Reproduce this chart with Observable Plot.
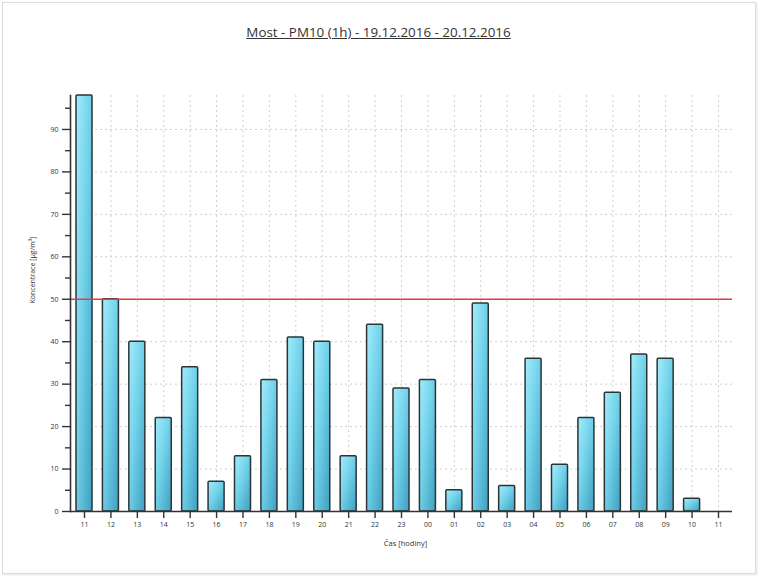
<!DOCTYPE html>
<html>
<head>
<meta charset="utf-8">
<script src="https://cdn.jsdelivr.net/npm/d3@7"></script>
<script src="https://cdn.jsdelivr.net/npm/@observablehq/plot@0.6"></script>
<style>
  html, body { margin: 0; padding: 0; background: #fff; }
  #wrap { position: relative; width: 761px; height: 579px; overflow: hidden; font-family: "Open Sans", sans-serif; }
  #frame { position: absolute; left: 2px; top: 2px; width: 752px; height: 570px; border: 1px solid #dcdcdc; box-shadow: 1px 1px 2px #e4e4e4; }
  #title { position: absolute; left: 0; width: 757px; top: 23px; text-align: center; font-size: 13.4px; color: #333; text-decoration: underline; }
  #chart { position: absolute; left: 0; top: 0; }
</style>
</head>
<body>
<div id="wrap">
  <div id="frame"></div>
  <div id="chart"></div>
  <div id="title">Most - PM10 (1h) - 19.12.2016 - 20.12.2016</div>
</div>
<script>
// Data
const hours = ["11","12","13","14","15","16","17","18","19","20","21","22","23","00","01","02","03","04","05","06","07","08","09","10","11"];
const values = [98, 50, 40, 22, 34, 7, 13, 31, 41, 40, 13, 44, 29, 31, 5, 49, 6, 36, 11, 22, 28, 37, 36, 3, null];
const yMajorTicks = [0, 10, 20, 30, 40, 50, 60, 70, 80, 90];
const yMinorTicks = [5, 15, 25, 35, 45, 55, 65, 75, 85, 95];
const limitValue = [50];
const yLabel = "Koncentrace [µg/m³]";
const xLabel = "Čas [hodiny]";

const idx = hours.map((h, i) => i);
const table = hours.map((h, i) => ({i, hour: h, value: values[i]}));

const plot = Plot.plot({
  width: 761,
  height: 579,
  marginLeft: 70,
  marginRight: 29,
  marginTop: 95,
  marginBottom: 68,
  style: {fontFamily: "Open Sans, sans-serif", fontSize: "7px", color: "#333", background: "transparent"},
  x: {type: "band", domain: idx, paddingInner: 0.394, paddingOuter: 0.227, round: false, label: null},
  y: {domain: [0, 98], label: null},
  marks: [
    Plot.ruleY(yMajorTicks.filter(d => d > 0), {stroke: "#cfcfcf", strokeDasharray: "2,3", strokeWidth: 1}),
    Plot.gridX(idx, {stroke: "#cfcfcf", strokeDasharray: "2,3", strokeOpacity: 1, strokeWidth: 1}),
    Plot.barY(table.filter(d => d.value != null), {x: "i", y: "value", fill: "url(#barGrad)", stroke: "#2b3538", strokeWidth: 1.5, rx: 1}),
    Plot.ruleY(limitValue, {stroke: "#e63a44", strokeWidth: 1.6}),
    Plot.ruleY([0], {stroke: "#333", strokeWidth: 1.6}),
    Plot.frame({anchor: "left", stroke: "#333", strokeWidth: 1.6}),
    Plot.axisY(yMajorTicks, {tickSize: 8, tickPadding: 4, stroke: "#333", strokeWidth: 1.4, fill: "#333", fontSize: 7, label: null}),
    Plot.axisY(yMinorTicks, {tickSize: 5, text: null, stroke: "#333", strokeWidth: 1.4, label: null}),
    Plot.axisX(idx, {tickSize: 7, tickPadding: 4, stroke: "#333", strokeWidth: 1.4, fill: "#333", fontSize: 7, tickFormat: i => hours[i], label: null}),
    Plot.text([yLabel], {frameAnchor: "left", dx: -38, rotate: -90, fontSize: 7, fill: "#333"}),
    Plot.text([xLabel], {frameAnchor: "bottom", dy: 34, fontSize: 7.5, fill: "#333", dx: 4})
  ]
});

// gradient definition for bars
const svgNS = "http://www.w3.org/2000/svg";
const defs = document.createElementNS(svgNS, "defs");
defs.innerHTML = `<linearGradient id="barGrad" x1="0" y1="0" x2="1" y2="1">
  <stop offset="0" stop-color="#a3ecfa"/>
  <stop offset="0.45" stop-color="#72d2ea"/>
  <stop offset="1" stop-color="#3e9fc0"/>
</linearGradient>`;
plot.insertBefore(defs, plot.firstChild);
document.getElementById("chart").appendChild(plot);
</script>
</body>
</html>
